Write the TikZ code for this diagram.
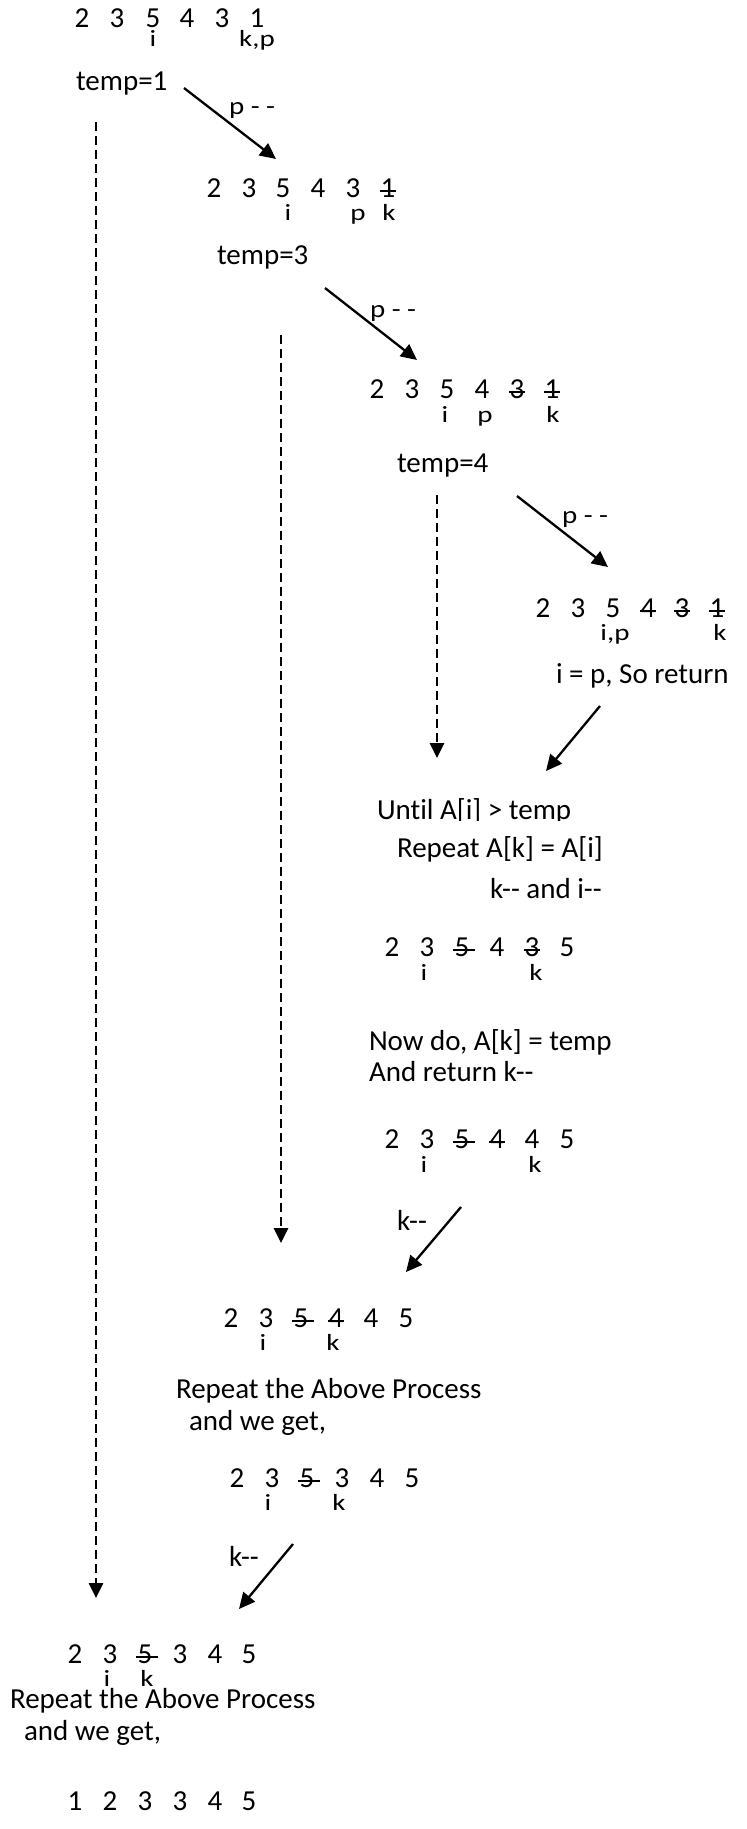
\documentclass[tikz,border=0pt]{standalone}
\usepackage{fontspec}
\newfontfamily\calfont{Carlito}[Ligatures={CommonOff,ContextualOff,RareOff}]
\usetikzlibrary{arrows.meta}

\tikzset{
  base font/.style={font=\calfont\fontsize{29}{35}\selectfont},
  txt/.style={base font, anchor=base west, inner sep=0pt, outer sep=0pt},
  digit/.style={base font, anchor=base, inner sep=0pt, outer sep=0pt},
  idx/.style={base font, anchor=base, inner sep=0pt, outer sep=0pt},
  strike/.style={line width=1.8pt},
  flow/.style={line width=2.3pt, -{Triangle[length=16pt,width=15pt]}},
  dashflow/.style={line width=2.8pt, dash pattern=on 9pt off 5pt,
                   -{Triangle[length=15pt,width=14pt]}},
}

% index letters are set in the text font, squeezed vertically
\newcommand\squash[1]{\scalebox{1}[0.8]{#1}}
\newcommand\squashlabel[1]{\scalebox{1}[0.85]{#1}}

% one array row: #1 row name, #2 baseline, #3 list of x/digit/strike
% strike: 0 = none, 1 = short bar, 2 = bar running past the digit
\newcommand\numrow[3]{%
  \foreach \x/\d/\s [count=\n] in {#3}{%
    \node[digit] (#1-\n) at (\x,#2) {\d};
    \ifcase\s\or
      \draw[strike] ([xshift=-8pt,yshift=6pt]#1-\n.base) -- ([xshift=8pt,yshift=6pt]#1-\n.base);
    \or
      \draw[strike] ([xshift=-9pt,yshift=6pt]#1-\n.base) -- ([xshift=13pt,yshift=6pt]#1-\n.base);
    \fi
  }}

\begin{document}
\begin{tikzpicture}[x=1pt,y=-1pt]
\useasboundingbox (0,0) rectangle (747,1829);

% ---- first call: temp = 1 ----
\numrow{r1}{27}{82/2/0,117/3/0,153/5/0,187/4/0,222/3/0,257/1/0}
\node[idx] (r1i) at (153,46) {\squash{i}};
\node[idx] (r1kp) at (257,46) {\squash{k,p}};
\node[txt] (t1) at (76,90) {temp=1};

\coordinate (a1s) at (184,88);
\coordinate (a1e) at (276,159);
\draw[flow] (a1s) -- (a1e);
\node[txt] (l1) at (229,114) {\squashlabel{p - -}};

% ---- temp = 3 ----
\numrow{r2}{197}{214/2/0,249/3/0,283/5/0,318/4/0,353/3/0,388/1/1}
\node[idx] (r2i) at (288,220) {\squash{i}};
\node[idx] (r2p) at (358,220) {\squash{p}};
\node[idx] (r2k) at (389,220) {\squash{k}};
\node[txt] (t3) at (217,264) {temp=3};

\coordinate (a2s) at (325,288);
\coordinate (a2e) at (417,360);
\draw[flow] (a2s) -- (a2e);
\node[txt] (l2) at (370,317) {\squashlabel{p - -}};

% ---- temp = 4 ----
\numrow{r3}{398}{377/2/0,412/3/0,447/5/0,482/4/0,517/3/1,552/1/1}
\node[idx] (r3i) at (445,422) {\squash{i}};
\node[idx] (r3p) at (485,422) {\squash{p}};
\node[idx] (r3k) at (553,422) {\squash{k}};
\node[txt] (t4) at (397,472) {temp=4};

\coordinate (a3s) at (517,496);
\coordinate (a3e) at (608,567);
\draw[flow] (a3s) -- (a3e);
\node[txt] (l3) at (562,523) {\squashlabel{p - -}};

% ---- i reaches p ----
\numrow{r4}{617}{543/2/0,578/3/0,613/5/0,648/4/1,682/3/1,717/1/1}
\node[idx] (r4ip) at (615,640) {\squash{i,p}};
\node[idx] (r4k) at (720,640) {\squash{k}};
\node[txt] (ret) at (556,683) {i = p, So return};

\coordinate (a4s) at (600,706);
\coordinate (a4e) at (546,771);
\draw[flow] (a4s) -- (a4e);

% ---- shifting loop ----
\begin{scope}
  \clip (360,780) rectangle (620,820.5);
  \node[txt] (until) at (377,819) {Until A[i] > temp};
\end{scope}
\node[txt] (rep) at (397,857) {Repeat A[k] = A[i]};
\node[txt] (dec) at (490,898) {k-- and i--};

\numrow{r5}{956}{392/2/0,427/3/0,462/5/2,497/4/0,532/3/1,567/5/0}
\node[idx] (r5i) at (424,980) {\squash{i}};
\node[idx] (r5k) at (536,980) {\squash{k}};

\node[txt] (now) at (369,1050) {Now do, A[k] = temp};
\node[txt] (andret) at (369,1081) {And return k--};

\numrow{r6}{1148}{392/2/0,427/3/0,462/5/2,497/4/1,532/4/0,567/5/0}
\node[idx] (r6i) at (424,1172) {\squash{i}};
\node[idx] (r6k) at (535,1172) {\squash{k}};

\coordinate (a5s) at (461,1207);
\coordinate (a5e) at (406,1272);
\draw[flow] (a5s) -- (a5e);
\node[txt] (l5) at (397,1230) {k--};

% ---- back in the temp = 3 call ----
\numrow{r7}{1327}{231/2/0,266/3/0,301/5/2,336/4/1,371/4/0,406/5/0}
\node[idx] (r7i) at (263,1350) {\squash{i}};
\node[idx] (r7k) at (333,1350) {\squash{k}};

\node[txt] (rp1) at (176,1398) {Repeat the Above Process};
\node[txt] (wg1) at (189,1430) {and we get,};

\numrow{r8}{1487}{237/2/0,272/3/0,307/5/2,342/3/0,377/4/0,412/5/0}
\node[idx] (r8i) at (268,1510) {\squash{i}};
\node[idx] (r8k) at (339,1510) {\squash{k}};

\coordinate (a6s) at (293,1544);
\coordinate (a6e) at (239,1609);
\draw[flow] (a6s) -- (a6e);
\node[txt] (l6) at (229,1566) {k--};

% ---- back in the temp = 1 call ----
\numrow{r9}{1663}{75/2/0,110/3/0,145/5/2,180/3/0,215/4/0,249/5/0}
\node[idx] (r9i) at (107,1686) {\squash{i}};
\node[idx] (r9k) at (147,1686) {\squash{k}};

\node[txt] (rp2) at (10,1708) {Repeat the Above Process};
\node[txt] (wg2) at (24,1740) {and we get,};

\numrow{r10}{1810}{75/1/0,110/2/0,145/3/0,180/3/0,215/4/0,249/5/0}

% ---- returns from the nested calls ----
\coordinate (d1s) at (96,122);
\coordinate (d1e) at (96,1598);
\draw[dashflow] (d1s) -- (d1e);

\coordinate (d2s) at (281,335);
\coordinate (d2e) at (281,1243);
\draw[dashflow] (d2s) -- (d2e);

\coordinate (d3s) at (437,495);
\coordinate (d3e) at (437,758);
\draw[dashflow] (d3s) -- (d3e);
\end{tikzpicture}
\end{document}
